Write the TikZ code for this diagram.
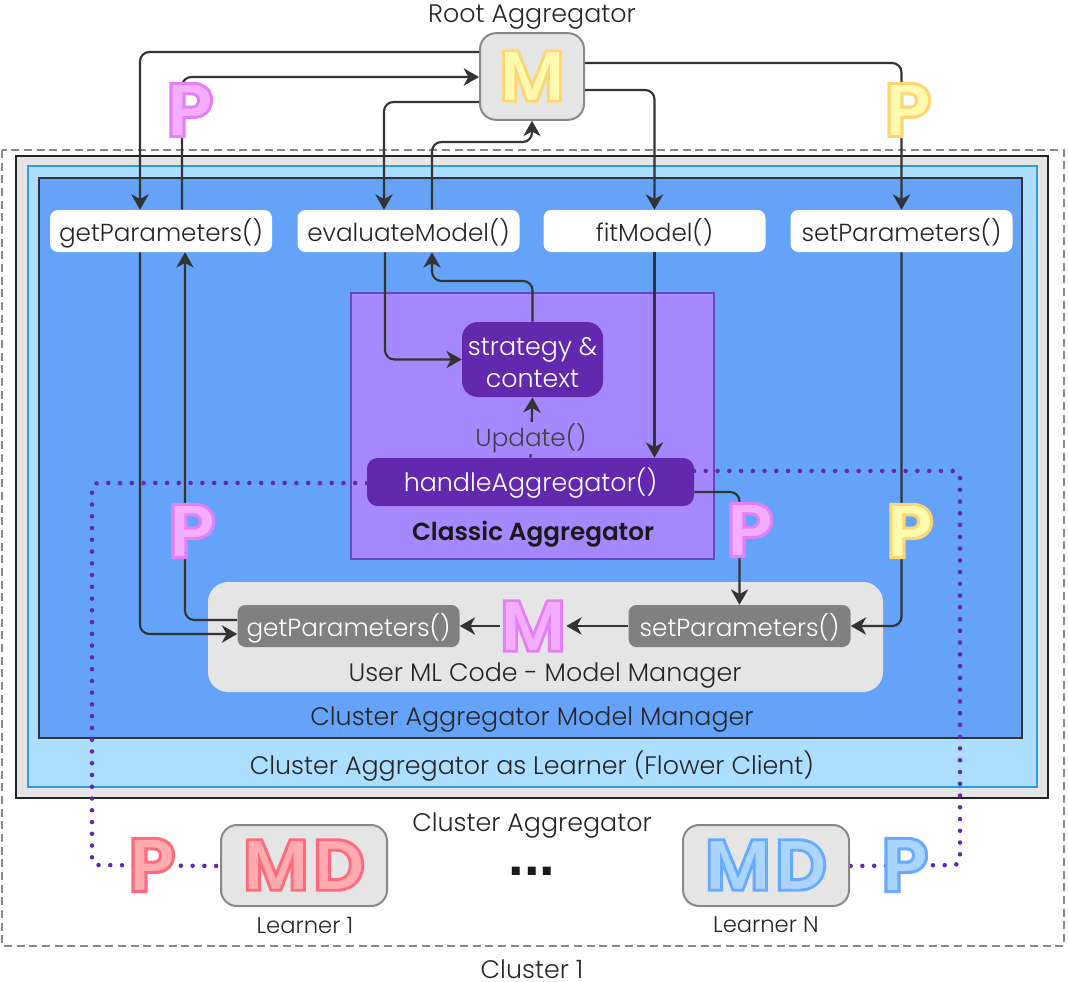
\documentclass[tikz,border=0pt]{standalone}
\usepackage{fontspec}
\setmainfont{Poppins Light}[BoldFont=Poppins SemiBold]
\newfontface\letterfont{Poppins Bold}[FakeBold=4]
\newfontface\dotfont{Liberation Sans Bold}
\usetikzlibrary{arrows.meta, positioning, calc}
\definecolor{linegray}{RGB}{51, 51, 51}
\definecolor{boxgray}{RGB}{229, 229, 229}
\definecolor{edgegray}{RGB}{136, 136, 136}
\definecolor{methodgray}{RGB}{128, 128, 128}
\definecolor{skyblue}{RGB}{172, 222, 255}
\definecolor{skyedge}{RGB}{47, 155, 232}
\definecolor{managerblue}{RGB}{100, 163, 249}
\definecolor{classicpurple}{RGB}{165, 135, 254}
\definecolor{classicedge}{RGB}{108, 68, 200}
\definecolor{deeppurple}{RGB}{98, 41, 174}
\newcommand{\pinkletter}[1]{{\letterfont\special{pdf:bcolor [0.96 0.68 1] [0.89 0.5 0.97]}#1\special{pdf:ecolor}}}
\newcommand{\yellowletter}[1]{{\letterfont\special{pdf:bcolor [1 0.98 0.68] [0.99 0.84 0.45]}#1\special{pdf:ecolor}}}
\newcommand{\redletter}[1]{{\letterfont\special{pdf:bcolor [1 0.67 0.69] [1 0.42 0.49]}#1\special{pdf:ecolor}}}
\newcommand{\blueletter}[1]{{\letterfont\special{pdf:bcolor [0.67 0.83 1] [0.4 0.67 1]}#1\special{pdf:ecolor}}}
\tikzset{
  flow/.style={draw=linegray, line width=1.6pt, rounded corners=7pt, -{Stealth[length=11.5pt, width=13pt, inset=3.5pt]}},
  dotflow/.style={draw=deeppurple, line width=3.4pt, line cap=round, rounded corners=4pt, dash pattern=on 0pt off 8.82pt},
  label/.style={font=\fontsize{19}{24}\selectfont, text=black!85, inner sep=0pt},
  method/.style={fill=white, rounded corners=6pt, minimum width=166.5pt, minimum height=31.5pt, inner sep=0pt, text height=15pt, text depth=0pt, font=\fontsize{18.5}{24}\selectfont, text=black!85},
  usermethod/.style={method, fill=methodgray, text=white},
  purplebox/.style={fill=deeppurple, text=white, inner sep=0pt, font=\fontsize{19}{24}\selectfont, align=center},
  greybox/.style={draw=edgegray, line width=1.5pt, fill=boxgray, rounded corners=12pt, inner sep=0pt},
  letter/.style={inner sep=0pt, font=\fontsize{54}{54}\selectfont},
  paramletter/.style={inner sep=0pt, font=\fontsize{57}{57}\selectfont}
}
\begin{document}
\begin{tikzpicture}[x=0.75pt, y=-0.75pt]
  \useasboundingbox (0,0) rectangle (1068,982);

  % Nested cluster boxes
  \draw[edgegray, line width=1.2pt, dash pattern=on 6pt off 3.5pt] (2,150) rectangle (1064,946);
  \draw[draw=linegray!70!black, line width=1.9pt, fill=boxgray] (16,156) rectangle (1048,798);
  \draw[draw=skyedge, line width=1.2pt, fill=skyblue] (28,166) rectangle (1037,787);
  \draw[draw=linegray, line width=1.5pt, fill=managerblue] (39,178) rectangle (1022,738);
  \draw[draw=classicedge, line width=0.8pt, fill=classicpurple] (351,293) rectangle (714,559);
  \draw[fill=boxgray, draw=none, rounded corners=15pt] (208,582) rectangle (883,692);

  % Dotted links to the learners (under the boxes)
  \coordinate (handleleft) at (367,483);
  \coordinate (handleright) at (694,471);
  \coordinate (learnerone) at (221,866);
  \coordinate (learnern) at (849,866);
  \draw[dotflow] (handleleft) -| (92,865) -- (learnerone);
  \draw[dotflow] (handleright) -| (960,865) -- (learnern);

  % Cluster methods
  \node[method] (getcluster) at (161,231) {getParameters()};
  \node[method] (evalcluster) at (408.5,231) {evaluateModel()};
  \node[method] (fitcluster) at (654.5,231) {fitModel()};
  \node[method] (setcluster) at (901.5,231) {setParameters()};

  % Classic aggregator
  \node[purplebox, rounded corners=12pt, minimum width=105.75pt, minimum height=56.25pt] (strategy) at (532.5,359.5) {\rule{0pt}{18pt}strategy \&\\context};
  \node[purplebox, rounded corners=8pt, minimum width=245.25pt, minimum height=36pt, text height=13.5pt, text depth=0pt] (handle) at (530.5,482) {handleAggregator()};
  \node[label, font=\fontsize{18.5}{24}\selectfont\bfseries, text=black!90] (classic) at (533,534) {Classic Aggregator};

  % User ML code
  \node[usermethod] (getuser) at (348.5,626) {getParameters()};
  \node[usermethod] (setuser) at (739.5,626) {setParameters()};
  \node[label] (usercode) at (545,676) {User ML Code - Model Manager};
  \node[letter] (usermodel) at (533,626) {\pinkletter{M}};

  % Root and learners
  \node[greybox, minimum width=78pt, minimum height=65pt] (root) at (532,76.5) {};
  \node[letter] (rootmodel) at (532,76) {\yellowletter{M}};
  \node[greybox, minimum width=124.5pt, minimum height=60.75pt] (learnerbox) at (304,865.5) {};
  \node[letter] (learnermd) at (304,865) {\redletter{M\kern3pt D}};
  \node[greybox, minimum width=124.5pt, minimum height=60.75pt] (learnernbox) at (766,865.5) {};
  \node[letter] (learnernmd) at (766,865) {\blueletter{M\kern3pt D}};

  % Labels
  \node[label] (rootlabel) at (532,17) {Root Aggregator};
  \node[label] (managerlabel) at (532,720) {Cluster Aggregator Model Manager};
  \node[label] (flowerlabel) at (532,766) {Cluster Aggregator as Learner (Flower Client)};
  \node[label] (clusterlabel) at (532,826) {Cluster Aggregator};
  \node[label, font=\fontsize{17}{20}\selectfont] (learneronelabel) at (305,925) {Learner 1};
  \node[label, font=\fontsize{17}{20}\selectfont] (learnernlabel) at (766,925) {Learner N};
  \node[label] (clusteronelabel) at (532,969) {Cluster 1};
  \node[label, font=\dotfont\fontsize{42}{42}\selectfont, text=black!90, anchor=base] (dots) at (532,875) {...};

  % Root to cluster methods
  \draw[flow] (root.west |- 0,52) -| (getcluster.north -| 140,0);
  \draw[flow] (getcluster.north -| 182,0) |- (root.west |- 0,77);
  \draw[flow] (root.west |- 0,102) -| (evalcluster.north -| 384,0);
  \draw[flow] (evalcluster.north -| 432,0) |- (532,142) -- (root.south);
  \draw[flow] (root.east |- 0,63) -| (setcluster.north);
  \draw[flow] (root.east |- 0,90) -| (fitcluster.north);

  % Cluster methods to the aggregator and user code
  \draw[flow] (getcluster.south -| 140,0) |- (getuser.west |- 0,634);
  \draw[flow] (getuser.west |- 0,620) -| (getcluster.south -| 185,0);
  \draw[flow] (evalcluster.south -| 385,0) |- (strategy.west);
  \draw[flow] (strategy.north) |- (432,281) -- (evalcluster.south -| 432,0);
  \draw[flow] (fitcluster.south) -- (handle.north -| fitcluster.south);
  \draw[flow] (handle.east |- 0,492) -| (setuser.north);
  \draw[flow] (setcluster.south) |- (setuser.east);
  \draw[flow] (setuser.west) -- (usermodel.east);
  \draw[flow] (usermodel.west) -- (getuser.east);
  \draw[flow] (handle.north) -- (strategy.south);
  \node[label, fill=classicpurple, inner ysep=1pt, text=black!75, font=\fontsize{18.5}{24}\selectfont] (update) at (531,438) {Update()};

  % Parameter letters on top of the links
  \node[paramletter] (paramget) at (190,110) {\pinkletter{P}};
  \node[paramletter] (paramset) at (908,110) {\yellowletter{P}};
  \node[paramletter] (paramback) at (192,531) {\pinkletter{P}};
  \node[paramletter] (paramhandle) at (750,530) {\pinkletter{P}};
  \node[paramletter] (paramdown) at (910,531) {\yellowletter{P}};
  \node[paramletter] (paramone) at (152,865) {\redletter{P}};
  \node[paramletter] (paramn) at (905,865) {\blueletter{P}};
\end{tikzpicture}
\end{document}
